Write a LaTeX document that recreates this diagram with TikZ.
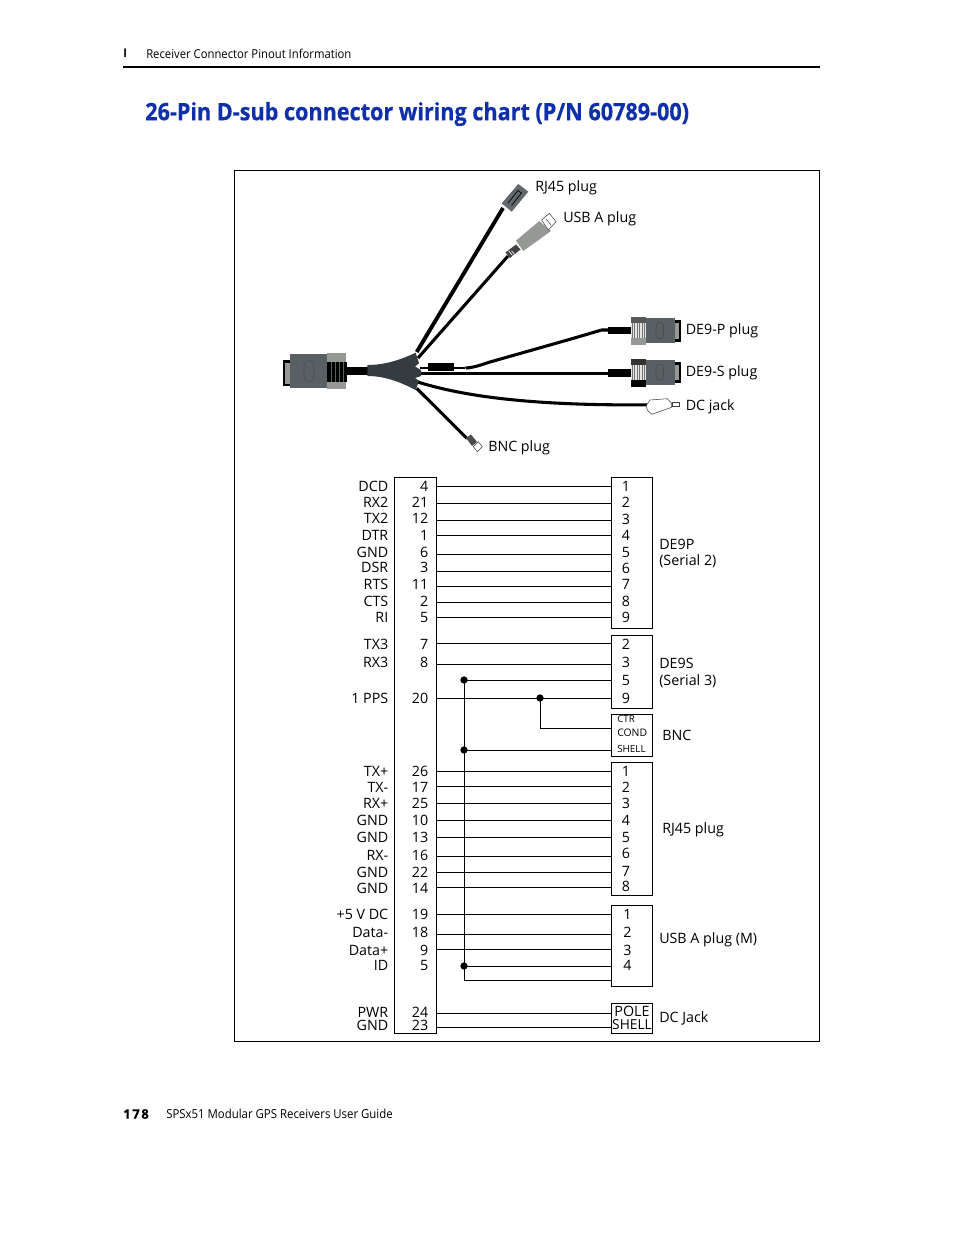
\documentclass[tikz,border=0pt]{standalone}
\usepackage{fontspec}
\setmainfont{Open Sans}
\newfontfamily\hdfont[FakeStretch=0.92]{Open Sans}
\newfontfamily\ttlfont[FakeStretch=0.90,FakeBold=0.6]{Open Sans}
\newfontfamily\pgfont[LetterSpace=12,FakeBold=0.5]{Open Sans}
\definecolor{titleblue}{RGB}{16,48,170}
\definecolor{bodygrey}{RGB}{88,96,100}
\definecolor{boot}{RGB}{52,60,64}
\definecolor{metal}{RGB}{150,152,150}
\tikzset{
  x=0.75pt,y=-0.75pt,
  lab/.style={inner sep=0,font=\fontsize{10.7pt}{11pt}\selectfont},
  sig/.style={lab,anchor=east,yshift=-0.2pt},
  num/.style={lab,anchor=east,yshift=-0.2pt},
  pin/.style={lab,yshift=-0.2pt},
  conn/.style={lab,anchor=west,align=left,yshift=-1.5pt},
  pbox/.style={draw=black,line width=0.75pt,inner sep=0,anchor=north west},
  wire/.style={draw=black,line width=0.75pt},
  dot/.style={circle,fill=black,inner sep=0,minimum size=5.5pt},
  cable/.style={draw=black,line width=2.9pt},
  thin cable/.style={draw=black,line width=2.3pt},
  outline/.style={draw=black!75,line width=0.4pt}
}
\newcommand{\pbx}[5]{\node[pbox,minimum width=#3*0.75pt,minimum height=#4*0.75pt] (#5) at (#1,#2) {};}
\newcommand{\wrg}[3]{\coordinate (a#3) at (436,#1); \coordinate (b#3) at (611,#2); \draw[wire] (a#3) -- (b#3);}
\newcommand{\rowl}[4]{\node[sig] (s#4) at (388.5,#1) {#2}; \node[num] (n#4) at (428.5,#1) {#3};}
\newcommand{\plug}[4]{%
 \begin{scope}[shift={(#1,#2)}]
  \fill[#3] (0,-14) rectangle (15,-8);
  \fill[#4] (0,7) rectangle (15,14);
  \fill[black!10] (0,-8) rectangle (15,7);
  \foreach \xx in {1,3.5,6,8.5,11,13.5}{\draw[black!55,line width=.45pt] (\xx,-8) -- (\xx,7);}
  \fill[bodygrey] (15,-13) rectangle (44,12);
  \draw[black!70,line width=.4pt,rounded corners=2pt] (25,-8) rectangle (32.5,7.5);
  \fill[black] (44,-11) rectangle (49.5,10.5);
  \fill[metal] (44,-8) rectangle (48,7.5);
 \end{scope}}
\begin{document}
\begin{tikzpicture}
\useasboundingbox (0,0) rectangle (954,1235);
% header
\node[inner sep=0,anchor=west,font=\fontsize{9pt}{10pt}\hdfont\bfseries] (bar) at (123,53) {I};
\node[inner sep=0,anchor=west,font=\fontsize{9.2pt}{10pt}\hdfont] (hd) at (146,53.5) {Receiver Connector Pinout Information};
\coordinate (rl) at (123,67); \coordinate (rr) at (820,67);
\draw[line width=1.2pt] (rl) -- (rr);
\node[inner sep=0,anchor=west,text=titleblue,font=\fontsize{18pt}{19pt}\ttlfont\bfseries] (title) at (145,114) {26-Pin D-sub connector wiring chart (P/N 60789-00)};
% frame
\node[draw=black,line width=0.6pt,inner sep=0,minimum width=585*0.75pt,minimum height=871*0.75pt,anchor=north west] (frame) at (234,170) {};
% cables
\draw[cable] (416.7,352) -- (503,208);
\draw[thin cable] (418,358) -- (508,256);
\draw[thin cable] (420,373.3) -- (610,373.3);
\draw[thin cable,line width=1.6pt] (420,368.3) -- (465,368.3);
\draw[thin cable] (465.5,368) .. controls (475,367.5) and (480,365) .. (490,362) -- (570,339.3) -- (601.7,330) -- (610,330);
\draw[thin cable] (416.7,381.7) .. controls (456,394) and (520,406) .. (648,404.8);
\draw[thin cable] (416.7,388.3) -- (467,438.5);
\fill[black] (427.7,363.3) rectangle (454,371);
\fill[black] (346.5,366.7) rectangle (368,375);
% hub boot
\fill[boot] (367.3,365) .. controls (385,365) and (400,360) .. (415.7,352.7) -- (419,363.3) -- (415,366.5) -- (421,370) -- (421,376) -- (415,378) -- (419,380.7) -- (415.7,390) .. controls (400,382) and (385,376) .. (367.3,376) -- cycle;
% big D-sub plug
\fill[metal] (327.3,353.3) rectangle (346,361.7);
\fill[metal] (327.3,381.7) rectangle (346,389);
\fill[bodygrey] (290,354.3) rectangle (327.3,388.3);
\draw[black!70,line width=.4pt,rounded corners=3pt] (304,360.7) rectangle (314,381.3);
\fill[black] (327.3,361.7) rectangle (346.7,381.7);
\foreach \xx in {331,335,339,343}{\draw[bodygrey,line width=.6pt] (\xx,361.7) -- (\xx,381.7);}
\fill[black] (283.3,360) rectangle (290,386);
\fill[metal] (285,362.5) rectangle (290,384);
% RJ45 plug
\fill[bodygrey!95] (501.7,203.3) -- (518.3,184) -- (528.3,191.7) -- (511.7,211.7) -- cycle;
\draw[black,line width=.5pt] (508,203) -- (518,190.5) -- (521.5,193) -- (511.5,205.5);
% USB plug
\fill[black!75] (505.5,252.5) -- (516,244.5) -- (520.5,249.5) -- (510,258) -- cycle;
\foreach \aa/\bb in {508.5/512.5,511.5/515.5}{\draw[white,line width=.5pt] (\aa,250.8) -- (\bb,255.3);}
\fill[metal] (516,240.7) -- (539.3,221) -- (551,231) -- (523.3,251) -- cycle;
\draw[outline,fill=white] (541.7,220) -- (549.3,213.3) -- (556,221.7) -- (548.3,230) -- cycle;
\draw[outline] (546,219) -- (551,225);
% DE9 plugs
\draw[black,line width=5.8pt] (608.3,330.5) -- (631,330.5);
\draw[black,line width=5.8pt] (608.3,373) -- (631,373);
\plug{631}{331}{black!65}{metal}
\plug{631}{372.5}{black!80}{black}
% DC jack
\draw[outline,fill=white] (646,406) -- (650,400) -- (667.3,398.7) -- (671.7,403.3) -- (671.7,407.3) -- (651.7,414.3) -- (647.3,410) -- cycle;
\draw[outline,fill=white] (672.3,402.3) rectangle (679.3,406);
% BNC plug
\fill[black!70] (466,438) -- (471,434.5) -- (477,442) -- (472,446) -- cycle;
\draw[outline,fill=white] (473.3,446.7) -- (478.3,441.7) -- (482.3,446.7) -- (477.3,451.7) -- cycle;
% top labels
\node[conn] (t1) at (535,186) {RJ45 plug};
\node[conn] (t2) at (563,217) {USB A plug};
\node[conn] (t3) at (685.5,329) {DE9-P plug};
\node[conn] (t4) at (685.5,371) {DE9-S plug};
\node[conn] (t5) at (685.5,405) {DC jack};
\node[conn] (t6) at (488,446) {BNC plug};
% boxes
\pbx{394}{477}{41.5}{555.5}{lbox}
\pbx{611}{477}{41}{151}{b1}
\pbx{611}{635}{41}{73}{b2}
\pbx{611}{714}{41}{42}{b3}
\pbx{611}{762}{41}{133}{b4}
\pbx{611}{905}{41}{81}{b5}
\pbx{611}{1003}{41}{30}{b6}
% wires
\wrg{486}{486}{1}\wrg{503}{503}{2}\wrg{520}{520}{3}\wrg{535}{535}{4}\wrg{554}{554}{5}\wrg{571}{571}{6}\wrg{586}{586}{7}\wrg{602}{602}{8}\wrg{617}{617}{9}
\wrg{643}{643}{10}\wrg{664}{664}{11}\wrg{698}{698}{12}
\wrg{771}{771}{13}\wrg{786}{786}{14}\wrg{803}{803}{15}\wrg{820}{820}{16}\wrg{837}{837}{17}\wrg{856}{856}{18}\wrg{872}{872}{19}\wrg{887}{887}{20}
\wrg{914}{914}{21}\wrg{934}{934}{22}\wrg{949}{949}{23}
\wrg{1013}{1013}{24}\wrg{1027}{1027}{25}
% ground bus and dots
\node[dot] (d1) at (464,680) {};
\node[dot] (d2) at (464,750) {};
\node[dot] (d3) at (464,966) {};
\node[dot] (d4) at (540,698) {};
\coordinate (e1) at (611,680); \coordinate (e2) at (611,750); \coordinate (e3) at (611,966); \coordinate (e4) at (611,980); \coordinate (e5) at (611,728);
\draw[wire] (d1.center) -- (e1);
\draw[wire] (d2.center) -- (e2);
\draw[wire] (d3.center) -- (e3);
\draw[wire] (d1.center) |- (e4);
\draw[wire] (d4.center) |- (e5);
% left rows
\rowl{486}{DCD}{4}{1}\rowl{502}{RX2}{21}{2}\rowl{518.5}{TX2}{12}{3}\rowl{535}{DTR}{1}{4}\rowl{552}{GND}{6}{5}\rowl{567.5}{DSR}{3}{6}\rowl{584}{RTS}{11}{7}\rowl{601}{CTS}{2}{8}\rowl{617}{RI}{5}{9}
\rowl{644}{TX3}{7}{10}\rowl{662}{RX3}{8}{11}\rowl{698}{1 PPS}{20}{12}
\rowl{771}{TX+}{26}{13}\rowl{787}{TX-}{17}{14}\rowl{803}{RX+}{25}{15}\rowl{820}{GND}{10}{16}\rowl{837}{GND}{13}{17}\rowl{855}{RX-}{16}{18}\rowl{872}{GND}{22}{19}\rowl{888}{GND}{14}{20}
\rowl{914}{+5 V DC}{19}{21}\rowl{932}{Data-}{18}{22}\rowl{950}{Data+}{9}{23}\rowl{965}{ID}{5}{24}
\rowl{1012}{PWR}{24}{25}\rowl{1025}{GND}{23}{26}
% right pins
\foreach \nm/\yy/\tx in {p1/486/1,p2/502/2,p3/519/3,p4/535/4,p5/552/5,p6/568/6,p7/584/7,p8/601/8,p9/617/9,
 q1/644/2,q2/662/3,q3/680/5,q4/698/9,
 r1/771/1,r2/787/2,r3/803/3,r4/820/4,r5/837/5,r6/853/6,r7/871/7,r8/886/8}
 {\node[pin] (\nm) at (626,\yy) {\tx};}
\foreach \nm/\yy/\tx in {u1/914/1,u2/932/2,u3/950/3,u4/965/4}
 {\node[pin] (\nm) at (627.5,\yy) {\tx};}
\node[inner sep=0,anchor=west,font=\fontsize{7.3pt}{8pt}\selectfont] (c1) at (617,719) {CTR};
\node[inner sep=0,anchor=west,font=\fontsize{7.8pt}{8pt}\selectfont] (c2) at (617,732.5) {COND};
\node[inner sep=0,anchor=west,font=\fontsize{7.4pt}{8pt}\selectfont] (c3) at (617,748.5) {SHELL};
\node[lab] (c4) at (632,1011) {POLE};
\node[lab,font=\fontsize{10.3pt}{11pt}\selectfont] (c5) at (632,1025) {SHELL};
% right labels
\node[conn] (g1) at (659,551) {DE9P\\[1pt](Serial 2)};
\node[conn] (g2) at (659,671) {DE9S\\[1.5pt](Serial 3)};
\node[conn] (g3) at (662,733) {BNC};
\node[conn] (g4) at (662,828) {RJ45 plug};
\node[conn] (g5) at (659,938) {USB A plug (M)};
\node[conn] (g6) at (659,1016) {DC Jack};
% footer
\node[inner sep=0,anchor=west,font=\fontsize{9.8pt}{10pt}\pgfont\bfseries] (pg) at (123,1114) {178};
\node[inner sep=0,anchor=west,font=\fontsize{9.3pt}{10pt}\hdfont] (ft) at (166,1114) {SPSx51 Modular GPS Receivers User Guide};
\end{tikzpicture}
\end{document}
